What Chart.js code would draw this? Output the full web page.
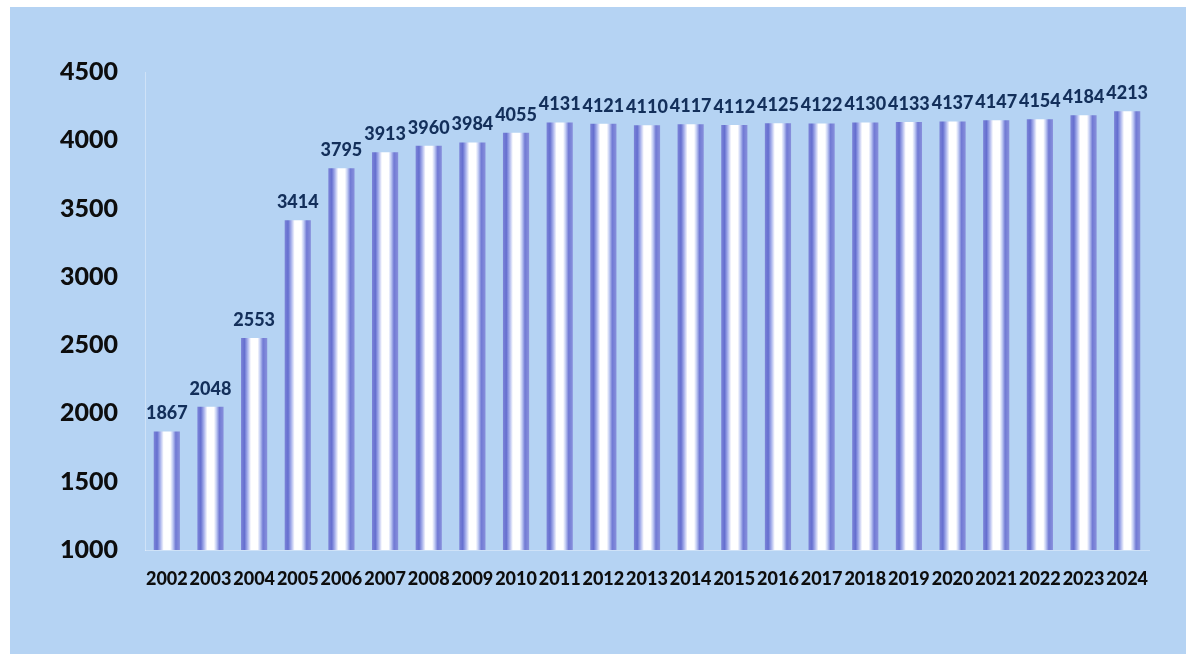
<!DOCTYPE html>
<html>
<head>
<meta charset="utf-8">
<script src="https://cdn.jsdelivr.net/npm/chart.js@4/dist/chart.umd.min.js"></script>
<style>
  html, body { margin: 0; padding: 0; background: #ffffff; }
  .wrap {
    position: absolute; left: 10px; top: 7px;
    width: 1176px; height: 647px;
    background: #b5d3f3;
  }
</style>
</head>
<body>
<div class="wrap"><canvas id="chart" width="1176" height="647"></canvas></div>
<script>
const years = ["2002", "2003", "2004", "2005", "2006", "2007", "2008", "2009", "2010", "2011", "2012",
  "2013", "2014", "2015", "2016", "2017", "2018", "2019", "2020", "2021", "2022", "2023", "2024"];
const counts = [1867, 2048, 2553, 3414, 3795, 3913, 3960, 3984, 4055, 4131, 4121,
  4110, 4117, 4112, 4125, 4122, 4130, 4133, 4137, 4147, 4154, 4184, 4213];
const yTicks = [1000, 1500, 2000, 2500, 3000, 3500, 4000, 4500];

const FONT = "Lato, 'DejaVu Sans', sans-serif";

// cylinder look: dark edges, white core
function barFill(context) {
  const chart = context.chart;
  const x = chart.scales.x;
  if (!x || context.dataIndex === undefined) return "#ffffff";
  const cx = x.getPixelForValue(context.dataIndex);
  const half = (x.width / years.length) * 0.6 / 2;
  if (!isFinite(cx) || !isFinite(half) || half <= 0) return "#ffffff";
  const g = chart.ctx.createLinearGradient(cx - half, 0, cx + half, 0);
  g.addColorStop(0, "#7c84d8");
  g.addColorStop(0.13, "#656fcf");
  g.addColorStop(0.25, "#a8b2ec");
  g.addColorStop(0.38, "#ffffff");
  g.addColorStop(0.63, "#ffffff");
  g.addColorStop(0.73, "#bfcaf3");
  g.addColorStop(0.84, "#717ad4");
  g.addColorStop(1, "#8890dc");
  return g;
}

// value labels above each bar
const valueLabels = {
  id: "valueLabels",
  afterDatasetsDraw(chart) {
    const ctx = chart.ctx;
    const meta = chart.getDatasetMeta(0);
    ctx.save();
    ctx.font = "900 18px " + FONT;
    ctx.fillStyle = "#132f5a";
    ctx.textAlign = "center";
    ctx.textBaseline = "bottom";
    meta.data.forEach((bar, i) => {
      ctx.fillText(String(counts[i]), bar.x, bar.y - 9);
    });
    ctx.restore();
  },
};

const chart = new Chart(document.getElementById("chart"), {
  type: "bar",
  data: {
    labels: years,
    datasets: [{
      data: counts,
      backgroundColor: barFill,
      borderWidth: 0,
      barPercentage: 0.6,
      categoryPercentage: 1,
    }],
  },
  options: {
    responsive: false,
    animation: false,
    layout: { padding: { top: 65, right: 37, left: 0, bottom: 0 } },
    plugins: {
      legend: { display: false },
      tooltip: { enabled: false },
    },
    scales: {
      x: {
        grid: { display: false, drawTicks: false },
        border: { display: true, color: "rgba(255,255,255,0.35)", width: 1 },
        ticks: {
          padding: 18,
          color: "#0d0d0d",
          font: { family: FONT, size: 18, weight: "900" },
          maxRotation: 0,
          autoSkip: false,
        },
        afterFit(scale) { scale.height = 104; },
      },
      y: {
        min: 1000,
        max: 4500,
        afterBuildTicks(scale) { scale.ticks = yTicks.map(v => ({ value: v })); },
        grid: { display: false, drawTicks: false },
        border: { display: true, color: "rgba(255,255,255,0.35)", width: 1 },
        ticks: {
          padding: 27,
          color: "#0d0d0d",
          font: { family: FONT, size: 25, weight: "900" },
          callback: (v) => String(v),
        },
        afterFit(scale) { scale.width = 135; },
      },
    },
  },
  plugins: [valueLabels],
});
</script>
</body>
</html>
